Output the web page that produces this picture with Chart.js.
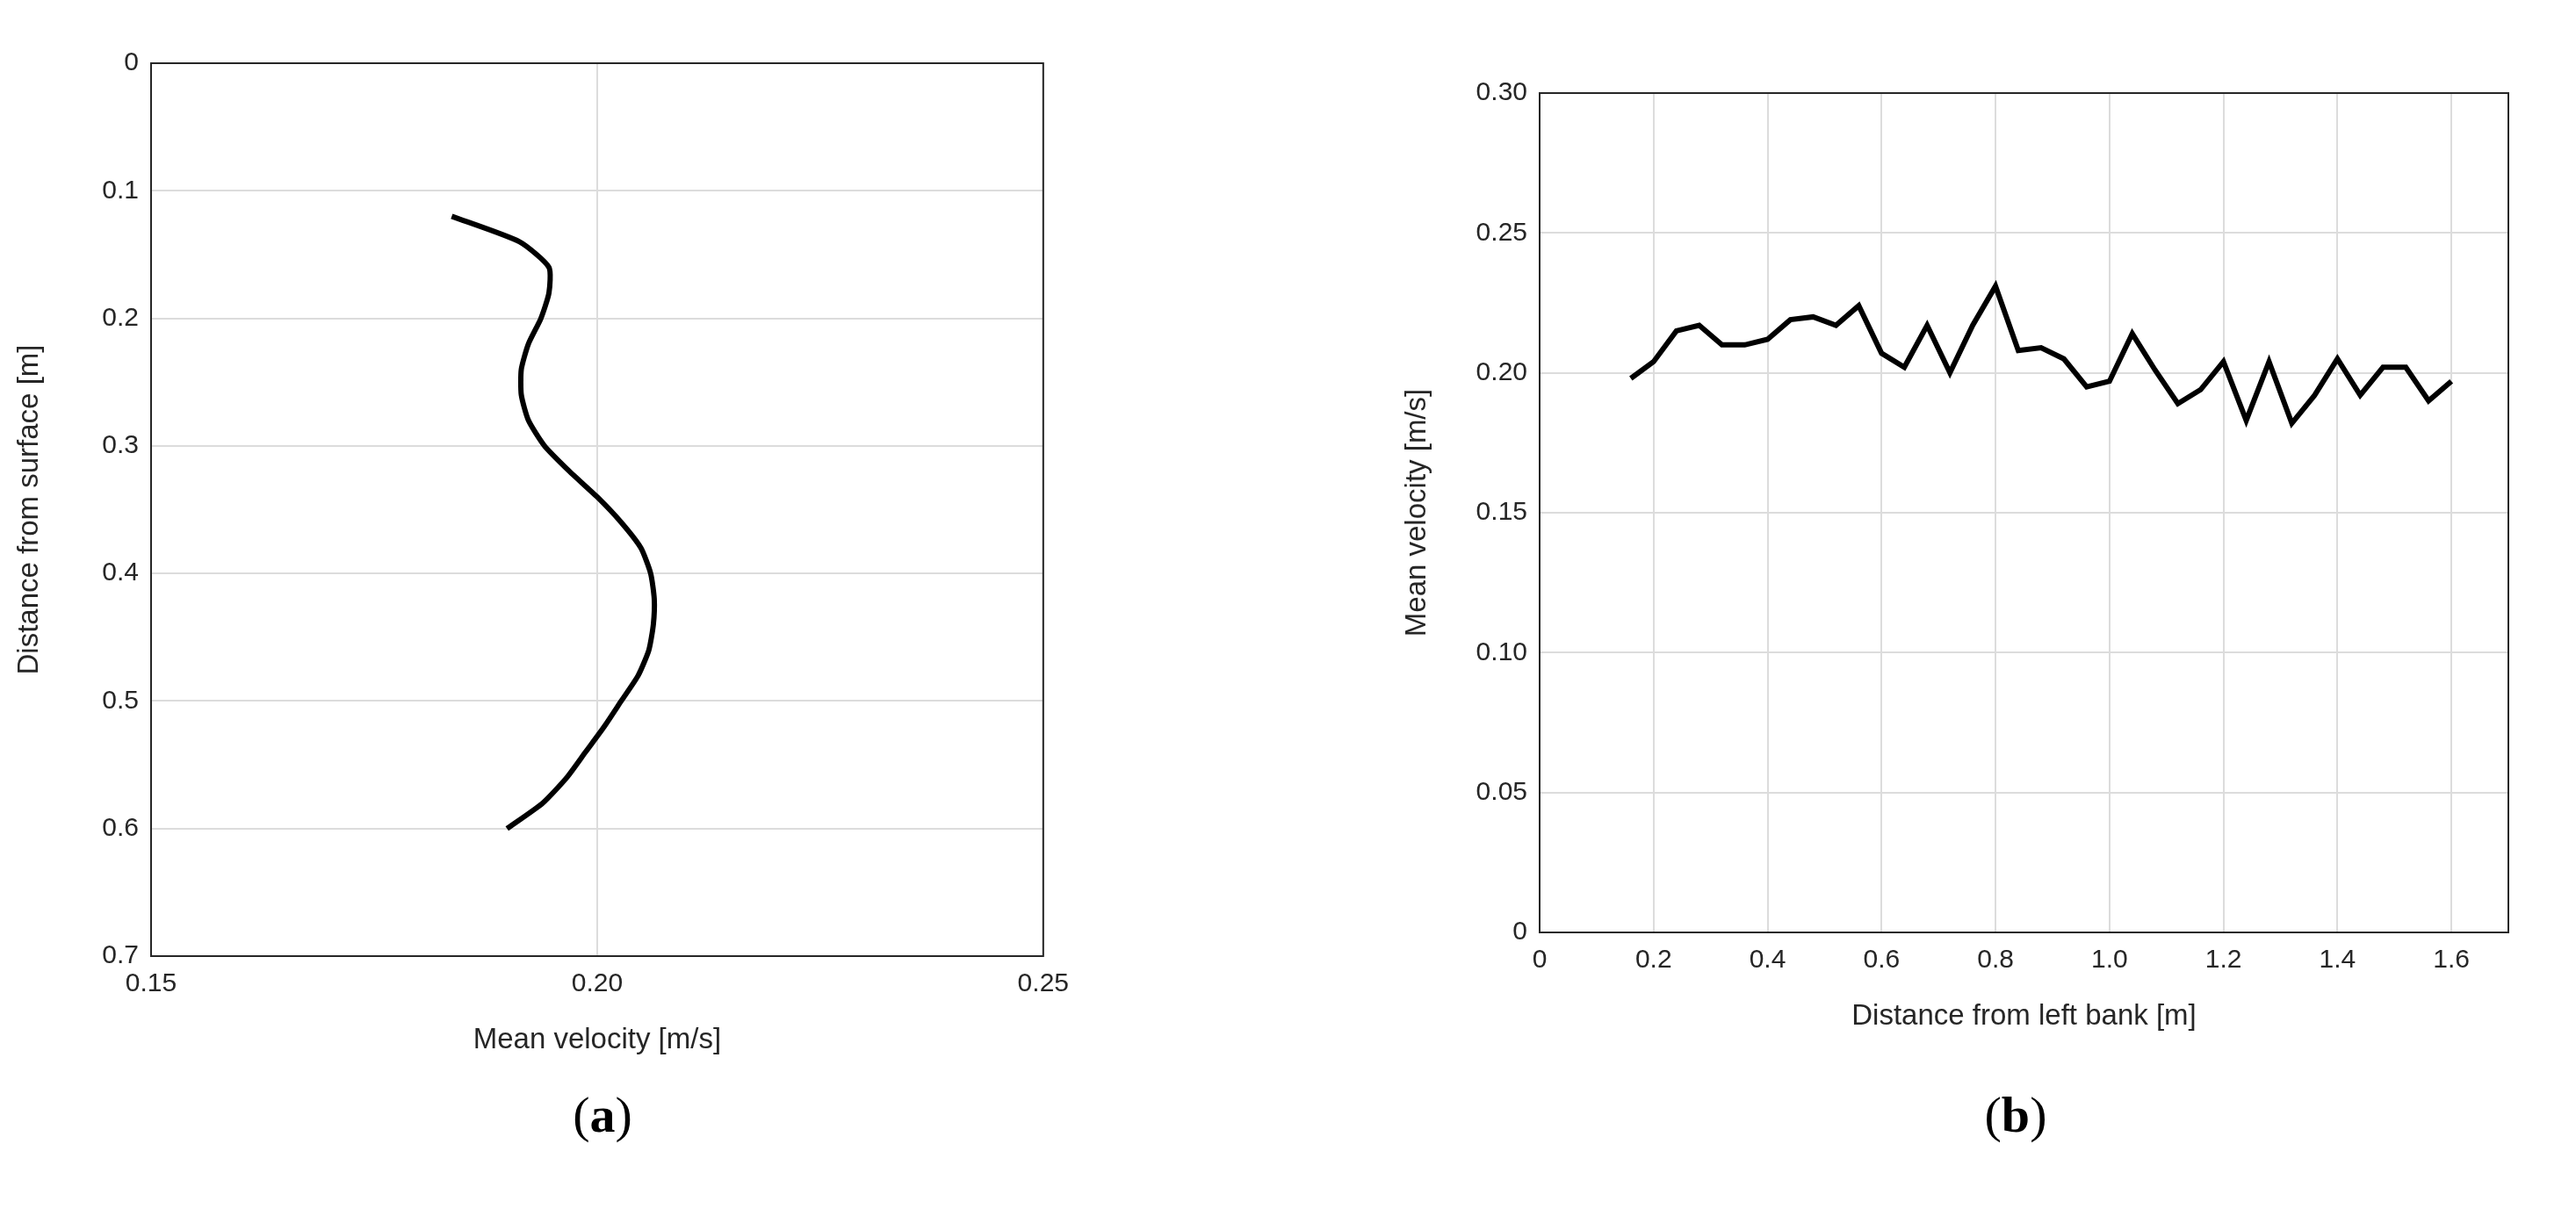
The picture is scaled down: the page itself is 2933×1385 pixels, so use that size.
<!DOCTYPE html>
<html>
<head>
<meta charset="utf-8">
<script src="https://cdn.jsdelivr.net/npm/chart.js@4"></script>
<style>
body { margin: 0; background: #fff; width: 2933px; height: 1385px; position: relative; overflow: hidden; }
.box { position: absolute; }
.lbl { position: absolute; font-family: "Liberation Serif", serif; font-size: 58px; transform: translateX(-50%); }
</style>
</head>
<body>
<div class="box" style="left:10px;top:40px;width:1221px;height:1169px"><canvas id="chartA"></canvas></div>
<div class="box" style="left:1590px;top:74px;width:1306px;height:1108px"><canvas id="chartB"></canvas></div>
<div class="lbl" style="left:686px;top:1236px">(<b>a</b>)</div>
<div class="lbl" style="left:2295px;top:1236px">(<b>b</b>)</div>
<script>
// (a) vertical profile
var depth = [0.12, 0.14, 0.16, 0.18, 0.20, 0.22, 0.24, 0.26, 0.28, 0.30, 0.32, 0.34, 0.36,
    0.38, 0.40, 0.42, 0.44, 0.46, 0.48, 0.50, 0.52, 0.54, 0.56, 0.58, 0.60];
var profileVel = [0.1837, 0.1913, 0.1946, 0.1946, 0.1937, 0.1923, 0.1915, 0.1915, 0.1923, 0.1941,
    0.1969, 0.2000, 0.2027, 0.2049, 0.2060, 0.2064, 0.2063, 0.2058, 0.2046, 0.2027, 0.2008,
    0.1987, 0.1966, 0.1939, 0.1899];
var depthTicks = [0, 0.1, 0.2, 0.3, 0.4, 0.5, 0.6, 0.7];
var velTicksA = [0.15, 0.2, 0.25];

// (b) transverse profile
var bankDist = [0.16, 0.20, 0.24, 0.28, 0.32, 0.36, 0.40, 0.44, 0.48, 0.52, 0.56, 0.60, 0.64,
    0.68, 0.72, 0.76, 0.80, 0.84, 0.88, 0.92, 0.96, 1.00, 1.04, 1.08, 1.12, 1.16, 1.20, 1.24,
    1.28, 1.32, 1.36, 1.40, 1.44, 1.48, 1.52, 1.56, 1.60];
var bankVel = [0.198, 0.204, 0.215, 0.217, 0.210, 0.210, 0.212, 0.219, 0.220, 0.217, 0.224,
    0.207, 0.202, 0.217, 0.200, 0.217, 0.231, 0.208, 0.209, 0.205, 0.195, 0.197, 0.214, 0.201,
    0.189, 0.194, 0.204, 0.183, 0.204, 0.182, 0.192, 0.205, 0.192, 0.202, 0.202, 0.190, 0.197];
var distTicks = [0, 0.2, 0.4, 0.6, 0.8, 1, 1.2, 1.4, 1.6];
var velTicksB = [0, 0.05, 0.1, 0.15, 0.2, 0.25, 0.3];

var font = { family: '"Liberation Sans", Arial, sans-serif', size: 30 };
var gridCol = '#dcdcdc';

// draw the axes box
var boxPlugin = {
    id: 'box',
    afterDraw: function (chart) {
        var a = chart.chartArea, ctx = chart.ctx;
        ctx.save();
        ctx.strokeStyle = '#262626';
        ctx.lineWidth = 2;
        ctx.strokeRect(a.left, a.top, a.right - a.left, a.bottom - a.top);
        ctx.restore();
    }
};

function axis(opts, title, tickList, fitW, fitH) {
    opts.border = { display: false };
    opts.grid = { color: gridCol, lineWidth: 2, drawTicks: false };
    opts.ticks = { color: '#262626', font: font, padding: 14 };
    opts.title = { display: true, text: title, color: '#262626', font: { family: font.family, size: 33 } };
    opts.afterBuildTicks = function (s) {
        s.ticks = tickList.map(function (v) { return { value: v }; });
    };
    opts.afterFit = function (s) {
        if (fitW) s.width = fitW;
        if (fitH) s.height = fitH;
    };
    return opts;
}

function pts(xs, ys) {
    var out = [];
    for (var i = 0; i < xs.length; i++) out.push({ x: xs[i], y: ys[i] });
    return out;
}

var common = {
    responsive: true,
    maintainAspectRatio: false,
    animation: false,
    plugins: { legend: { display: false }, tooltip: { enabled: false } }
};

new Chart(document.getElementById('chartA'), {
    type: 'scatter',
    data: { datasets: [{
        data: pts(profileVel, depth),
        showLine: true, borderColor: '#000', borderWidth: 6, pointRadius: 0, tension: 0.2
    }] },
    options: Object.assign({}, common, {
        layout: { padding: { top: 20, right: 30 } },
        scales: {
            x: axis({ type: 'linear', min: 0.15, max: 0.25 }, 'Mean velocity [m/s]', velTicksA, 0, 120),
            y: axis({ type: 'linear', reverse: true, min: 0, max: 0.7 }, 'Distance from surface [m]', depthTicks, 162, 0)
        }
    }),
    plugins: [boxPlugin]
});

new Chart(document.getElementById('chartB'), {
    type: 'scatter',
    data: { datasets: [{
        data: pts(bankDist, bankVel),
        showLine: true, borderColor: '#000', borderWidth: 6, pointRadius: 0
    }] },
    options: Object.assign({}, common, {
        layout: { padding: { top: 20, right: 40 } },
        scales: {
            x: axis({ type: 'linear', min: 0, max: 1.7 }, 'Distance from left bank [m]', distTicks, 0, 120),
            y: axis({ type: 'linear', min: 0, max: 0.3 }, 'Mean velocity [m/s]', velTicksB, 163, 0)
        }
    }),
    plugins: [boxPlugin]
});
</script>
</body>
</html>
